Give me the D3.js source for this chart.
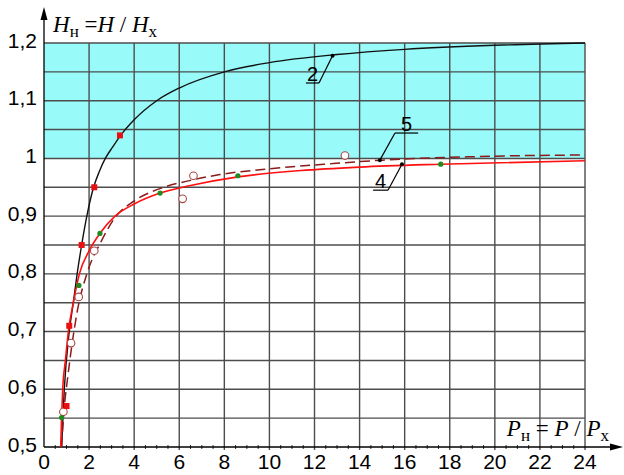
<!DOCTYPE html>
<html>
<head>
<meta charset="utf-8">
<script src="https://cdn.jsdelivr.net/npm/d3@7"></script>
<style>
  body { margin: 0; background: #fff; }
  .tick-label { font-family: "Liberation Sans", Arial, sans-serif; font-size: 21px; fill: #000; }
  .axis-title { font-family: "Liberation Serif", "Times New Roman", serif; font-size: 23px; fill: #000; }
  .curve-label { font-family: "Liberation Sans", Arial, sans-serif; font-size: 20px; fill: #000; }
</style>
</head>
<body>
<div id="chart"></div>
<script>
// tick values
var xTicks = [0, 2, 4, 6, 8, 10, 12, 14, 16, 18, 20, 22, 24];
var yTicks = [0.5, 0.6, 0.7, 0.8, 0.9, 1.0, 1.1, 1.2];
var yTickLabels = ['0,5', '0,6', '0,7', '0,8', '0,9', '1', '1,1', '1,2'];

// curve 2 (black)
var curve2X = [0.78, 0.9, 1.12, 1.3, 1.47, 1.67, 1.9, 2.2, 2.45, 2.72, 3.05, 3.4, 4.0, 5.0, 6.0, 8, 10, 13, 16, 20, 24];
var curve2Y = [0.5, 0.6, 0.7, 0.75, 0.8, 0.85, 0.9, 0.95, 0.977, 1.0, 1.02, 1.04, 1.067, 1.1, 1.122, 1.15, 1.166, 1.18, 1.189, 1.196, 1.2];

// curve 4 (red solid)
var curve4X = [0.74, 0.78, 0.83, 0.95, 1.08, 1.3, 1.57, 2.0, 2.48, 3.15, 4.0, 5.15, 6.5, 8.6, 11.4, 14, 17.6, 24];
var curve4Y = [0.5, 0.55, 0.6, 0.65, 0.7, 0.75, 0.8, 0.84, 0.87, 0.9, 0.921, 0.94, 0.953, 0.968, 0.979, 0.985, 0.99, 0.996];

// curve 5 (dark red dashed)
var curve5X = [0.78, 0.88, 1.05, 1.25, 1.5, 1.9, 2.56, 3.2, 3.95, 5.4, 6.5, 7.8, 10, 12.8, 15, 19, 24];
var curve5Y = [0.5, 0.56, 0.62, 0.68, 0.74, 0.8, 0.858, 0.9, 0.925, 0.951, 0.962, 0.972, 0.982, 0.991, 0.997, 1.003, 1.006];

// experimental points
var squaresX = [1.0, 1.12, 1.67, 2.23, 3.37];
var squaresY = [0.571, 0.71, 0.85, 0.95, 1.04];
var greenX = [0.78, 1.55, 2.48, 5.15, 8.6, 17.6];
var greenY = [0.551, 0.78, 0.87, 0.94, 0.97, 0.99];
var circlesX = [0.86, 1.2, 1.54, 2.23, 6.15, 6.63, 13.35];
var circlesY = [0.561, 0.68, 0.76, 0.84, 0.93, 0.97, 1.005];

// curve labels: text, dot on curve, underline start/end (data units)
var labelNames = ['2', '5', '4'];
var labelDotX = [12.8, 14.9, 15.88];
var labelDotY = [1.178, 0.997, 0.99];
var labelLineX1 = [11.62, 16.6, 14.6];
var labelLineX2 = [12.2, 15.57, 15.26];
var labelLineY = [1.1307, 1.044, 0.945];

var width = 624, height = 475;

var svg = d3.select('#chart').append('svg')
    .attr('width', width)
    .attr('height', height);

var x = d3.scaleLinear().domain([0, 24]).range([44, 585]);
var y = d3.scaleLinear().domain([0.5, 1.2]).range([447, 43]);

function zip(xs, ys) {
  return xs.map(function(d, i) { return [d, ys[i]]; });
}

// cyan zone
svg.append('rect')
    .attr('x', x(0))
    .attr('y', y(1.2))
    .attr('width', x(24) - x(0))
    .attr('height', y(1.0) - y(1.2))
    .attr('fill', '#99fafa');

// grid
var grid = svg.append('g').attr('stroke', '#4d4d4d').attr('stroke-width', 1.4);
grid.selectAll('line.v')
    .data(xTicks.slice(1))
    .enter().append('line')
    .attr('x1', function(d) { return x(d); })
    .attr('x2', function(d) { return x(d); })
    .attr('y1', y(1.2))
    .attr('y2', y(0.5) + 3);
grid.selectAll('line.h')
    .data(d3.range(11, 25).map(function(d) { return d * 0.05; }))
    .enter().append('line')
    .attr('x1', x(0))
    .attr('x2', x(24))
    .attr('y1', function(d) { return y(d); })
    .attr('y2', function(d) { return y(d); });

// minor ticks on x axis
svg.append('g').selectAll('line')
    .data(d3.range(1, 48).filter(function(d) { return d % 4 != 0; }).map(function(d) { return d * 0.5; }))
    .enter().append('line')
    .attr('x1', function(d) { return x(d); })
    .attr('x2', function(d) { return x(d); })
    .attr('y1', y(0.5) - 2)
    .attr('y2', y(0.5) + 2)
    .attr('stroke', '#333')
    .attr('stroke-width', 1);

// axes with arrows
svg.append('line')
    .attr('x1', x(0)).attr('x2', x(0))
    .attr('y1', y(0.5)).attr('y2', 18)
    .attr('stroke', '#000').attr('stroke-width', 1.3);
svg.append('path')
    .attr('d', 'M' + x(0) + ',7 L' + (x(0) - 3.5) + ',20 L' + (x(0) + 3.5) + ',20 Z')
    .attr('fill', '#000');
svg.append('line')
    .attr('x1', x(0)).attr('x2', 612)
    .attr('y1', y(0.5)).attr('y2', y(0.5))
    .attr('stroke', '#000').attr('stroke-width', 1.3);
svg.append('path')
    .attr('d', 'M623,' + y(0.5) + ' L610,' + (y(0.5) - 3.5) + ' L610,' + (y(0.5) + 3.5) + ' Z')
    .attr('fill', '#000');

// tick labels
svg.append('g').selectAll('text')
    .data(xTicks)
    .enter().append('text')
    .attr('class', 'tick-label')
    .attr('x', function(d) { return x(d); })
    .attr('y', 469)
    .attr('text-anchor', 'middle')
    .text(function(d) { return d; });

svg.append('g').selectAll('text')
    .data(yTicks)
    .enter().append('text')
    .attr('class', 'tick-label')
    .attr('x', 37)
    .attr('y', function(d) { return y(d) + 4.5; })
    .attr('text-anchor', 'end')
    .text(function(d, i) { return yTickLabels[i]; });

// axis titles
function axisTitle(letter, tx, ty, anchor, eq) {
  var t = svg.append('text')
      .attr('class', 'axis-title')
      .attr('x', tx)
      .attr('y', ty)
      .attr('text-anchor', anchor);
  t.append('tspan').attr('font-style', 'italic').text(letter);
  t.append('tspan').attr('font-size', 17).attr('dy', 5).text('н');
  t.append('tspan').attr('dy', -5).text(eq);
  t.append('tspan').attr('font-style', 'italic').text(letter);
  t.append('tspan').text(' / ');
  t.append('tspan').attr('font-style', 'italic').text(letter);
  t.append('tspan').attr('font-size', 17).attr('dy', 5).text('x');
}
axisTitle('H', 53, 32, 'start', '  =');
axisTitle('P', 609, 436, 'end', ' = ');

// curves
var line = d3.line()
    .x(function(d) { return x(d[0]); })
    .y(function(d) { return y(d[1]); })
    .curve(d3.curveMonotoneX);

svg.append('path')
    .datum(zip(curve2X, curve2Y))
    .attr('d', line)
    .attr('fill', 'none')
    .attr('stroke', '#111')
    .attr('stroke-width', 1.4);

svg.append('path')
    .datum(zip(curve5X, curve5Y))
    .attr('d', line)
    .attr('fill', 'none')
    .attr('stroke', '#8b1a1a')
    .attr('stroke-width', 1.5)
    .attr('stroke-dasharray', '10,5');

svg.append('path')
    .datum(zip(curve4X, curve4Y))
    .attr('d', line)
    .attr('fill', 'none')
    .attr('stroke', '#ff1010')
    .attr('stroke-width', 1.6);

// markers
svg.append('g').selectAll('circle')
    .data(zip(circlesX, circlesY))
    .enter().append('circle')
    .attr('cx', function(d) { return x(d[0]); })
    .attr('cy', function(d) { return y(d[1]); })
    .attr('r', 3.8)
    .attr('fill', '#fff')
    .attr('stroke', '#a84848')
    .attr('stroke-width', 1.1);

svg.append('g').selectAll('rect')
    .data(zip(squaresX, squaresY))
    .enter().append('rect')
    .attr('x', function(d) { return x(d[0]) - 3; })
    .attr('y', function(d) { return y(d[1]) - 3; })
    .attr('width', 6)
    .attr('height', 6)
    .attr('fill', '#e81010');

svg.append('g').selectAll('circle')
    .data(zip(greenX, greenY))
    .enter().append('circle')
    .attr('cx', function(d) { return x(d[0]); })
    .attr('cy', function(d) { return y(d[1]); })
    .attr('r', 2.6)
    .attr('fill', '#1f8a1f');

// curve labels with leaders
var labels = svg.append('g').selectAll('g')
    .data(labelNames)
    .enter().append('g');

labels.append('line')
    .attr('x1', function(d, i) { return x(labelLineX1[i]); })
    .attr('x2', function(d, i) { return x(labelLineX2[i]); })
    .attr('y1', function(d, i) { return y(labelLineY[i]); })
    .attr('y2', function(d, i) { return y(labelLineY[i]); })
    .attr('stroke', '#000').attr('stroke-width', 1.2);

labels.append('line')
    .attr('x1', function(d, i) { return x(labelLineX2[i]); })
    .attr('x2', function(d, i) { return x(labelDotX[i]); })
    .attr('y1', function(d, i) { return y(labelLineY[i]); })
    .attr('y2', function(d, i) { return y(labelDotY[i]); })
    .attr('stroke', '#000').attr('stroke-width', 1.2);

labels.append('circle')
    .attr('cx', function(d, i) { return x(labelDotX[i]); })
    .attr('cy', function(d, i) { return y(labelDotY[i]); })
    .attr('r', 2)
    .attr('fill', '#000');

labels.append('text')
    .attr('class', 'curve-label')
    .attr('x', function(d, i) { return (x(labelLineX1[i]) + x(labelLineX2[i])) / 2; })
    .attr('y', function(d, i) { return y(labelLineY[i]) - 2; })
    .attr('text-anchor', 'middle')
    .text(function(d) { return d; });
</script>
</body>
</html>
